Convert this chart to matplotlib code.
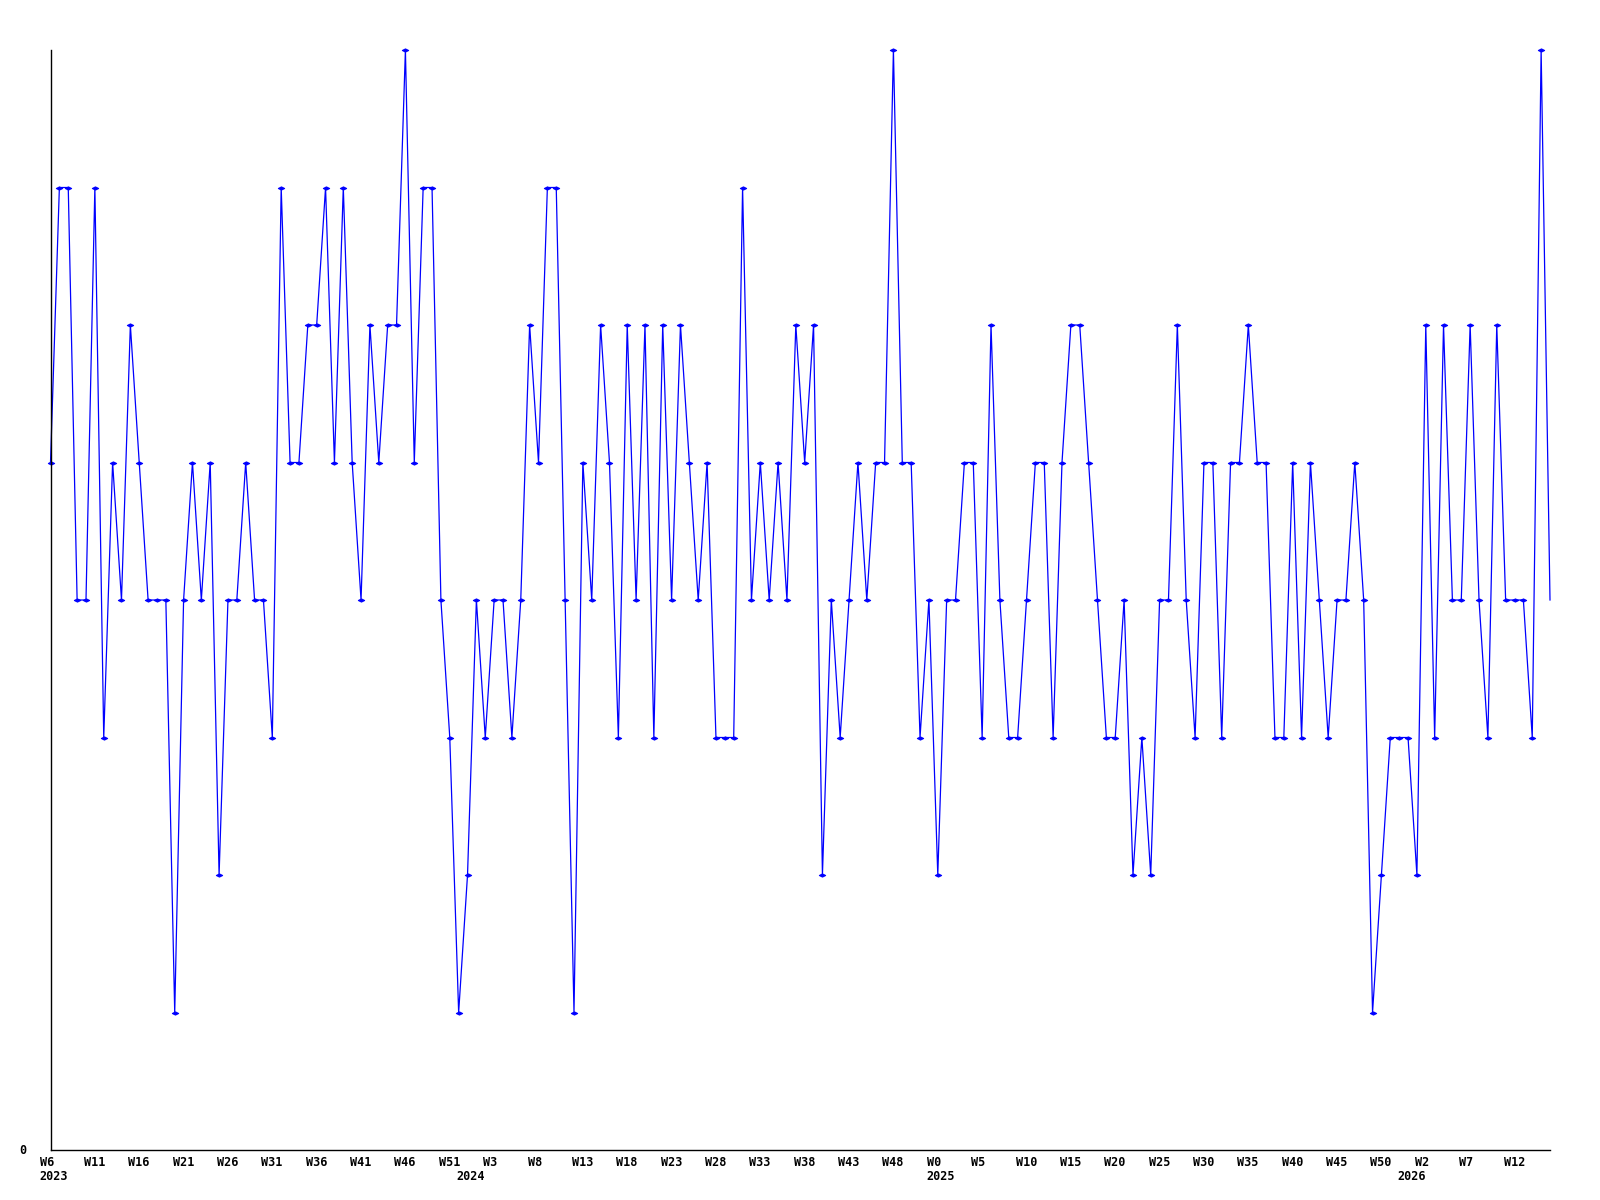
import matplotlib
matplotlib.use("Agg")
import matplotlib.pyplot as plt
import matplotlib.transforms as mtransforms
from matplotlib.path import Path

# ---- data (weekly counts) ----
values = [5, 7, 7, 4, 4, 7, 3, 5, 4, 6, 5, 4, 4, 4, 1, 4, 5, 4,
          5, 2, 4, 4, 5, 4, 4, 3, 7, 5, 5, 6, 6, 7, 5, 7, 5,
          4, 6, 5, 6, 6, 8, 5, 7, 7, 4, 3, 1, 2, 4, 3, 4, 4, 3,
          4, 6, 5, 7, 7, 4, 1, 5, 4, 6, 5, 3, 6, 4, 6, 3, 6,
          4, 6, 5, 4, 5, 3, 3, 3, 7, 4, 5, 4, 5, 4, 6, 5, 6, 2,
          4, 3, 4, 5, 4, 5, 5, 8, 5, 5, 3, 4, 2, 4, 4, 5, 5,
          3, 6, 4, 3, 3, 4, 5, 5, 3, 5, 6, 6, 5, 4, 3, 3, 4, 2,
          3, 2, 4, 4, 6, 4, 3, 5, 5, 3, 5, 5, 6, 5, 5, 3, 3,
          5, 3, 5, 4, 3, 4, 4, 5, 4, 1, 2, 3, 3, 3, 2, 6, 3,
          6, 4, 4, 6, 4, 3, 6, 4, 4, 4, 3, 8, 4]

week_labels = ["W6", "W11", "W16", "W21", "W26", "W31", "W36", "W41", "W46", "W51",
               "W3", "W8", "W13", "W18", "W23", "W28", "W33", "W38", "W43", "W48",
               "W0", "W5", "W10", "W15", "W20", "W25", "W30", "W35", "W40", "W45",
               "W50", "W2", "W7", "W12"]
year_labels = ["2023", "2024", "2025", "2026"]
year_start_week = [0, 47, 100, 153]   # index of the week where each year label sits
label_every = 5

n = len(values)
weeks = list(range(n))

fig = plt.figure(figsize=(16, 12), dpi=100)
ax = fig.add_axes([50.5 / 1600, 50 / 1200, 1499.5 / 1600, 1100 / 1200])

diamond = Path([(-1, 0), (0, 0.5), (1, 0), (0, -0.5), (-1, 0)],
               [Path.MOVETO, Path.LINETO, Path.LINETO, Path.LINETO, Path.CLOSEPOLY])

ax.plot(weeks, values, color="#0000ff", lw=0.9, marker=diamond, ms=4.5,
        mew=0.8, mec="#0000ff", mfc="#0000ff", markevery=list(range(n - 1)),
        clip_on=False)

ax.set_xlim(0, n - 1)
ax.set_ylim(0, 8)
ax.spines["top"].set_visible(False)
ax.spines["right"].set_visible(False)
ax.spines["left"].set_linewidth(1.0)
ax.spines["bottom"].set_linewidth(1.0)
ax.set_xticks([])
ax.set_yticks([])

font = dict(family="DejaVu Sans Mono", weight="bold", size=8.5, color="black")

xt = ax.get_xaxis_transform()
wk_tr = mtransforms.offset_copy(xt, fig=fig, x=-11, y=-12, units="dots")
yr_tr = mtransforms.offset_copy(xt, fig=fig, x=-11, y=-27, units="dots")
for i, lab in zip(range(0, n, label_every), week_labels):
    ax.text(i, 0, lab, transform=wk_tr, ha="left", va="center", **font)
for i, lab in zip(year_start_week, year_labels):
    ax.text(i, 0, lab, transform=yr_tr, ha="left", va="center", **font)

fig.text(22.5 / 1600, 1 - 1150 / 1200, "0", ha="center", va="center", **font)

fig.savefig("out.png", dpi=100, facecolor="white")
